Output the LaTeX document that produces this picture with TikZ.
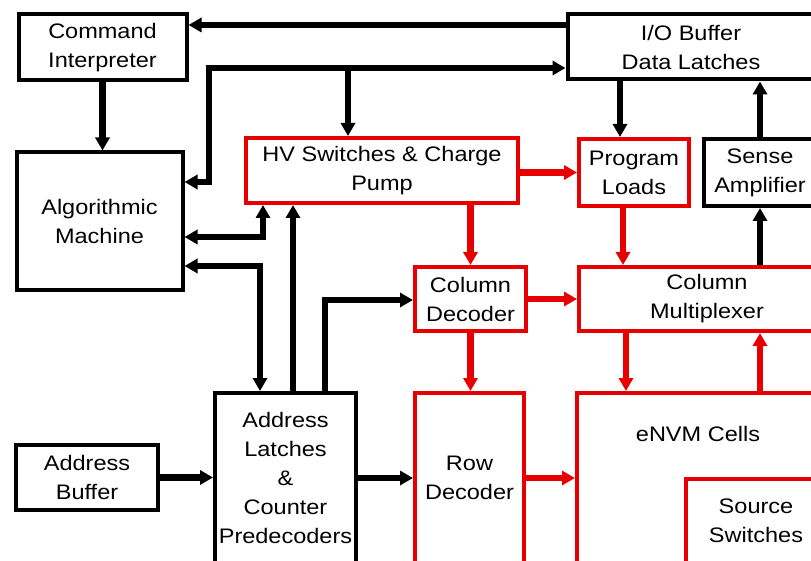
\documentclass[tikz,border=0pt]{standalone}
\usepackage{fontspec}
\setmainfont[FakeStretch=1.12]{Liberation Sans}
\usetikzlibrary{arrows.meta}
\definecolor{boxred}{RGB}{232,0,0}
\tikzset{
  blk/.style={draw=black, line width=4pt, rectangle, inner sep=0pt, align=center,
    font=\fontsize{21}{29}\selectfont},
  redbox/.style={blk, draw=boxred, line width=4pt},
  txt/.style={inner sep=0pt, align=center, font=\fontsize{21}{29}\selectfont},
  tip/.tip={Triangle[length=13pt,width=14pt]},
  barrow/.style={line width=6.5pt, draw=black, -tip},
  bboth/.style={line width=6.5pt, draw=black, tip-tip},
  rarrow/.style={line width=6.5pt, draw=boxred, -{Triangle[length=13pt,width=14pt,fill=boxred]}},
}
\begin{document}
\begin{tikzpicture}[x=1pt,y=-1pt]
\useasboundingbox (0,0) rectangle (811,561);
\clip (0,0) rectangle (811,561);
% boxes
\node[blk, minimum width=168pt, minimum height=66pt] (CI) at (102.5,47.5) {Command\\Interpreter};
\node[blk, minimum width=166pt, minimum height=138pt] (AM) at (99.5,221.5) {Algorithmic\\Machine};
\node[redbox, minimum width=272pt, minimum height=65pt] (HV) at (382,170.5) {HV Switches \& Charge\\Pump};
\node[blk, minimum width=247pt, minimum height=65pt] (IO) at (691,47) {I/O Buffer\\Data Latches};
\node[redbox, minimum width=110pt, minimum height=67pt] (PL) at (634,172.5) {Program\\Loads};
\node[blk, minimum width=112pt, minimum height=67pt] (SA) at (760,172.5) {Sense\\Amplifier};
\node[redbox, minimum width=111pt, minimum height=64pt] (CD) at (470.5,299) {Column\\Decoder};
\node[redbox, minimum width=256pt, minimum height=64pt] (CM) at (707,299) {Column\\Multiplexer};
\node[blk, minimum width=141pt, minimum height=170pt] (AL) at (285.5,478) {Address\\Latches\\\&\\Counter\\Predecoders};
\node[blk, minimum width=142pt, minimum height=65pt] (AB) at (87,477.5) {Address\\Buffer};
\node[redbox, minimum width=109pt, minimum height=170pt] (RD) at (469.5,478) {Row\\Decoder};
\node[redbox, minimum width=323pt, minimum height=307pt] (EN) at (738.5,546.5) {};
\node[txt] (ENt) at (698,434) {eNVM Cells};
\node[redbox, minimum width=140pt, minimum height=84pt] (SS) at (756,521) {Source\\Switches};
% helper coordinates
\coordinate (y25) at (0,25);
\coordinate (k1) at (209,68);
\coordinate (k2) at (209,182);
\coordinate (k3) at (348,68);
\coordinate (k4) at (263,237);
\coordinate (k5) at (260,266);
\coordinate (x293) at (293,0);
\coordinate (k6) at (325,300);
\coordinate (y478) at (0,478);
\coordinate (x620) at (620,0);
\coordinate (x623) at (623,0);
\coordinate (x626) at (626,0);
% black connectors
\draw[barrow] (IO.west |- y25) -- (CI.east |- y25);
\draw[bboth] (IO.west |- k1) -- (k1) -- (k2) -- (AM.east |- k2);
\draw[barrow] (k3) -- (HV.north -| k3);
\draw[barrow] (CI.south) -- (CI.south |- AM.north);
\draw[bboth] (AM.east |- k4) -- (k4) -- (HV.south -| k4);
\draw[bboth] (AM.east |- k5) -- (k5) -- (AL.north -| k5);
\draw[barrow] (AL.north -| x293) -- (HV.south -| x293);
\draw[barrow] (AL.north -| k6) -- (k6) -- (CD.west |- k6);
\draw[barrow] (AB.east) -- (AL.west |- AB.east);
\draw[barrow] (AL.east |- y478) -- (RD.west |- y478);
\draw[barrow] (IO.south -| x620) -- (PL.north -| x620);
\draw[barrow] (SA.north) -- (IO.south -| SA.north);
\draw[barrow] (CM.north -| SA.south) -- (SA.south);
% red connectors
\draw[rarrow] (HV.east |- PL.west) -- (PL.west);
\draw[rarrow] (HV.south -| CD.north) -- (CD.north);
\draw[rarrow] (PL.south -| x623) -- (CM.north -| x623);
\draw[rarrow] (CD.east) -- (CM.west |- CD.east);
\draw[rarrow] (CD.south) -- (RD.north -| CD.south);
\draw[rarrow] (CM.south -| x626) -- (EN.north -| x626);
\draw[rarrow] (EN.north -| SA.south) -- (CM.south -| SA.south);
\draw[rarrow] (RD.east |- y478) -- (EN.west |- y478);
\end{tikzpicture}
\end{document}
